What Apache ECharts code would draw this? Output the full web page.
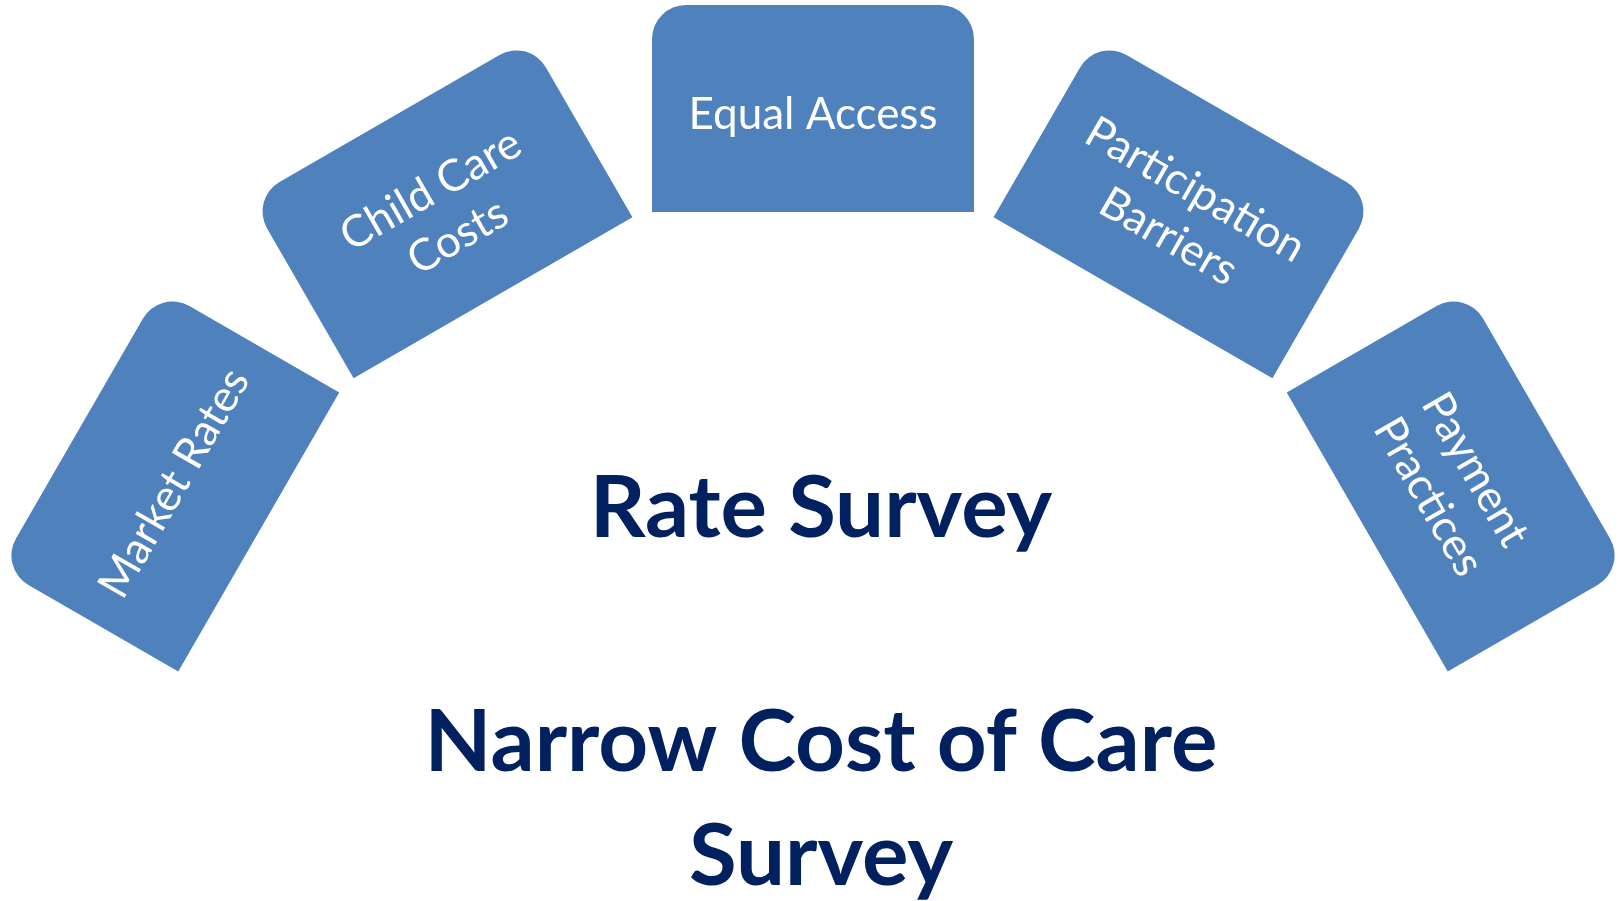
<!DOCTYPE html>
<html>
<head>
<meta charset="utf-8">
<script src="https://cdn.jsdelivr.net/npm/echarts@6/dist/echarts.min.js"></script>
<style>
html, body { margin: 0; padding: 0; background: #fff; }
#chart { width: 1621px; height: 901px; }
</style>
</head>
<body>
<div id="chart"></div>
<script>
// the five topics around the arc, left to right
var topicLabels = ['Market Rates', 'Child Care\nCosts', 'Equal Access', 'Participation\nBarriers', 'Payment\nPractices'];
// angular slot of each topic, degrees from the top (negative = left)
var topicAngles = [-60, -30, 0, 30, 60];
// texts in the middle of the arc
var centerTitles = ['Rate Survey', 'Narrow Cost of Care\nSurvey'];

var RING_INNER = 640;	// radius of the inner edge of the boxes
var RING_OUTER = 847;	// radius of the outer edge
var BOX_WIDTH = 322;
var CORNER = 34;
var BOX_COLOR = '#4F81BD';
var TITLE_COLOR = '#002060';

var chart = echarts.init(document.getElementById('chart'));

// polar data is [radius, angle]
var seriesData = topicAngles.map(function (a, i) {
	return { value: [RING_OUTER, a], name: topicLabels[i] };
});

function renderTopic(params, api) {
	var angle = api.value(1);
	var pIn = api.coord([RING_INNER, angle]);
	var pOut = api.coord([RING_OUTER, angle]);
	var dx = pOut[0] - pIn[0], dy = pOut[1] - pIn[1];
	var h = Math.sqrt(dx * dx + dy * dy);
	var w = BOX_WIDTH * h / (RING_OUTER - RING_INNER);
	return {
		type: 'group',
		x: (pIn[0] + pOut[0]) / 2,
		y: (pIn[1] + pOut[1]) / 2,
		rotation: -angle * Math.PI / 180,
		children: [{
			type: 'rect',
			shape: { x: -w / 2, y: -h / 2, width: w, height: h, r: [CORNER, CORNER, 0, 0] },
			style: { fill: BOX_COLOR }
		}, {
			type: 'text',
			x: 0,
			y: 6,
			style: {
				text: topicLabels[params.dataIndex],
				font: '44px Lato',
				fill: '#fff',
				align: 'center',
				verticalAlign: 'middle',
				lineHeight: 54
			}
		}]
	};
}

var option = {
	animation: false,
	polar: { center: [813, 852], radius: RING_OUTER },
	angleAxis: { type: 'value', min: -180, max: 180, startAngle: 270, clockwise: true, show: false },
	radiusAxis: { type: 'value', min: 0, max: RING_OUTER, show: false },
	series: [{
		type: 'custom',
		coordinateSystem: 'polar',
		renderItem: renderTopic,
		data: seriesData
	}],
	graphic: [{
		type: 'text',
		x: 821,
		y: 509,
		style: { text: centerTitles[0], font: 'bold 87px Lato', fill: TITLE_COLOR, align: 'center', verticalAlign: 'middle' }
	}, {
		type: 'text',
		x: 821,
		y: 686,
		style: { text: centerTitles[1], font: 'bold 87px Lato', fill: TITLE_COLOR, align: 'center', verticalAlign: 'top', lineHeight: 114 }
	}]
};

chart.setOption(option);
</script>
</body>
</html>
